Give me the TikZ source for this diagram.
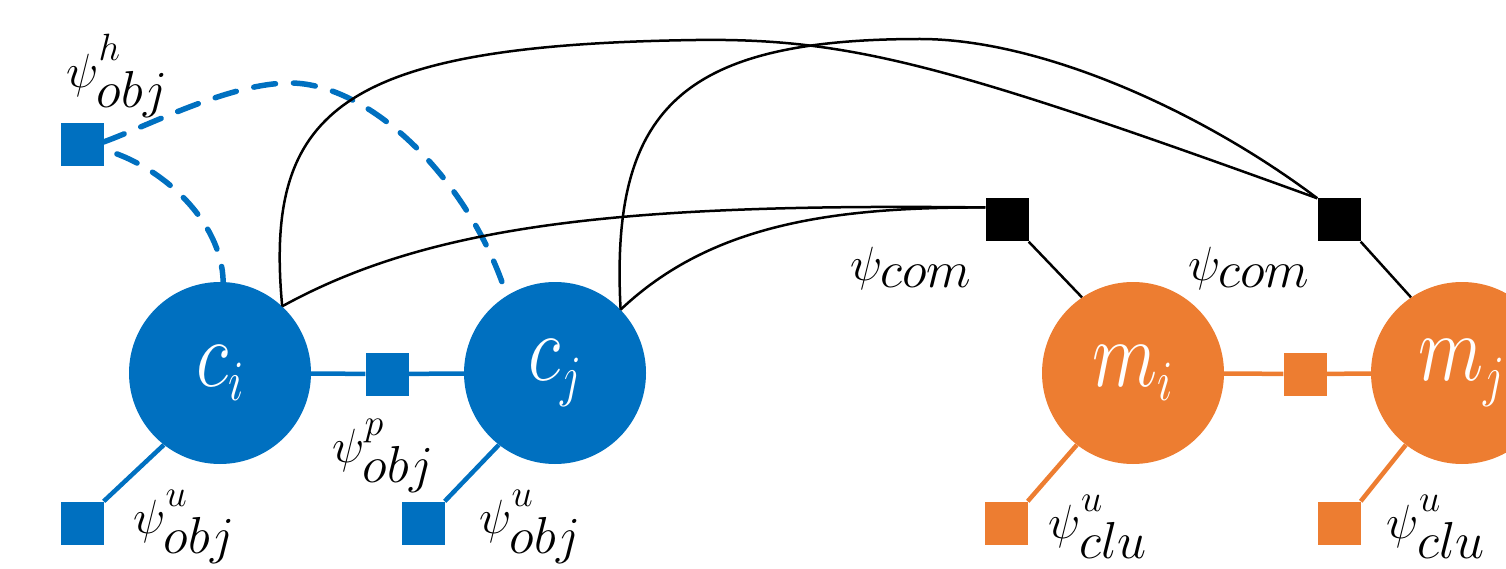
\RequirePackage{fix-cm}
\documentclass[tikz,border=0pt]{standalone}
\usepackage{graphicx}
\DeclareMathSizes{48}{48}{52}{38}
\DeclareMathSizes{95}{95}{57}{40}
\definecolor{myblue}{HTML}{0070C0}
\definecolor{myorange}{HTML}{ED7D31}
\newcommand\varlab[1]{\fontsize{95}{100}\selectfont\raisebox{-15pt}{\scalebox{0.8}[1]{$#1$}}}
\newcommand\sups[1]{\raisebox{9pt}{$\scriptscriptstyle #1$}}
\tikzset{
  var/.style={circle, minimum size=182pt, inner sep=0pt, text=white},
  fac/.style={rectangle, minimum size=43pt, inner sep=0pt},
  lab/.style={inner sep=0pt, font=\fontsize{48}{52}\selectfont},
  blueline/.style={draw=myblue, line width=4.5pt},
  orangeline/.style={draw=myorange, line width=4.5pt},
  blk/.style={draw=black, line width=2.5pt},
  dashblue/.style={draw=myblue, line width=5.5pt, line cap=round, dash pattern=on 22pt off 18pt},
}
\begin{document}
\begin{tikzpicture}[x=1pt,y=-1pt]
\useasboundingbox (0,0) rectangle (1506,569);
\clip (0,0) rectangle (1506,569);
% variable nodes
\node[var, fill=myblue] (ci) at (220,373) {\varlab{c_i}};
\node[var, fill=myblue] (cj) at (555,373) {\varlab{c_j}};
\node[var, fill=myorange] (mi) at (1133,373) {\varlab{m_i}};
\node[var, fill=myorange] (mj) at (1462,373) {\varlab{m_j}};
% factor nodes
\node[fac, fill=myblue] (hsq) at (82,145) {};
\node[fac, fill=myblue] (psq) at (387,374) {};
\node[fac, fill=myblue] (u1sq) at (82,523) {};
\node[fac, fill=myblue] (u2sq) at (423,523) {};
\node[fac, fill=black] (com1) at (1007,220) {};
\node[fac, fill=black] (com2) at (1339,220) {};
\node[fac, fill=myorange] (osq) at (1305,374) {};
\node[fac, fill=myorange] (c1sq) at (1006,523) {};
\node[fac, fill=myorange] (c2sq) at (1339,523) {};
% labels
\node[lab] (hl) at (117,76) {$\psi^{\sups{h}}_{obj}$};
\node[lab] (pl) at (383,456) {$\psi^{\sups{p}}_{obj}$};
\node[lab] (u1l) at (184,527) {$\psi^{\sups{u}}_{obj}$};
\node[lab] (u2l) at (530,527) {$\psi^{\sups{u}}_{obj}$};
\node[lab] (com1l) at (911,268) {$\psi_{com}$};
\node[lab] (com2l) at (1249,268) {$\psi_{com}$};
\node[lab] (c1l) at (1098,527) {$\psi^{\sups{u}}_{clu}$};
\node[lab] (c2l) at (1436,527) {$\psi^{\sups{u}}_{clu}$};
% blue solid connectors
\draw[blueline] (ci) -- (psq);
\draw[blueline] (psq) -- (cj);
\draw[blueline] (ci.-128) -- (u1sq.north east);
\draw[blueline] (cj.-128) -- (u2sq.north east);
% orange connectors
\draw[orangeline] (mi) -- (osq);
\draw[orangeline] (osq) -- (mj);
\draw[orangeline] (mi.-128) -- (c1sq.north east);
\draw[orangeline] (mj.-128) -- (c2sq.north east);
% dashed blue
\draw[dashblue, dash phase=26pt] (hsq.-12) .. controls (160,165) and (222,220) .. (ci.88);
\draw[dashblue] (hsq.8) .. controls (150,125) and (230,83) .. (290,83) .. controls (370,83) and (470,180) .. (cj.122);
% black connectors
\draw[blk] (ci.47) .. controls (264,110) and (340,45) .. (696,40) .. controls (850,38) and (950,65) .. (com2.north west);
\draw[blk] (cj.44) .. controls (610,110) and (680,39) .. (920,39) .. controls (1040,39) and (1200,110) .. (com2.north west);
\draw[blk] (ci.47) .. controls (430,225) and (620,203) .. (com1.150);
\draw[blk] (cj.44) .. controls (710,225) and (830,207) .. (com1.150);
\draw[blk] (com1.south east) -- (mi.124);
\draw[blk] (com2.south east) -- (mj.124);
\end{tikzpicture}
\end{document}
